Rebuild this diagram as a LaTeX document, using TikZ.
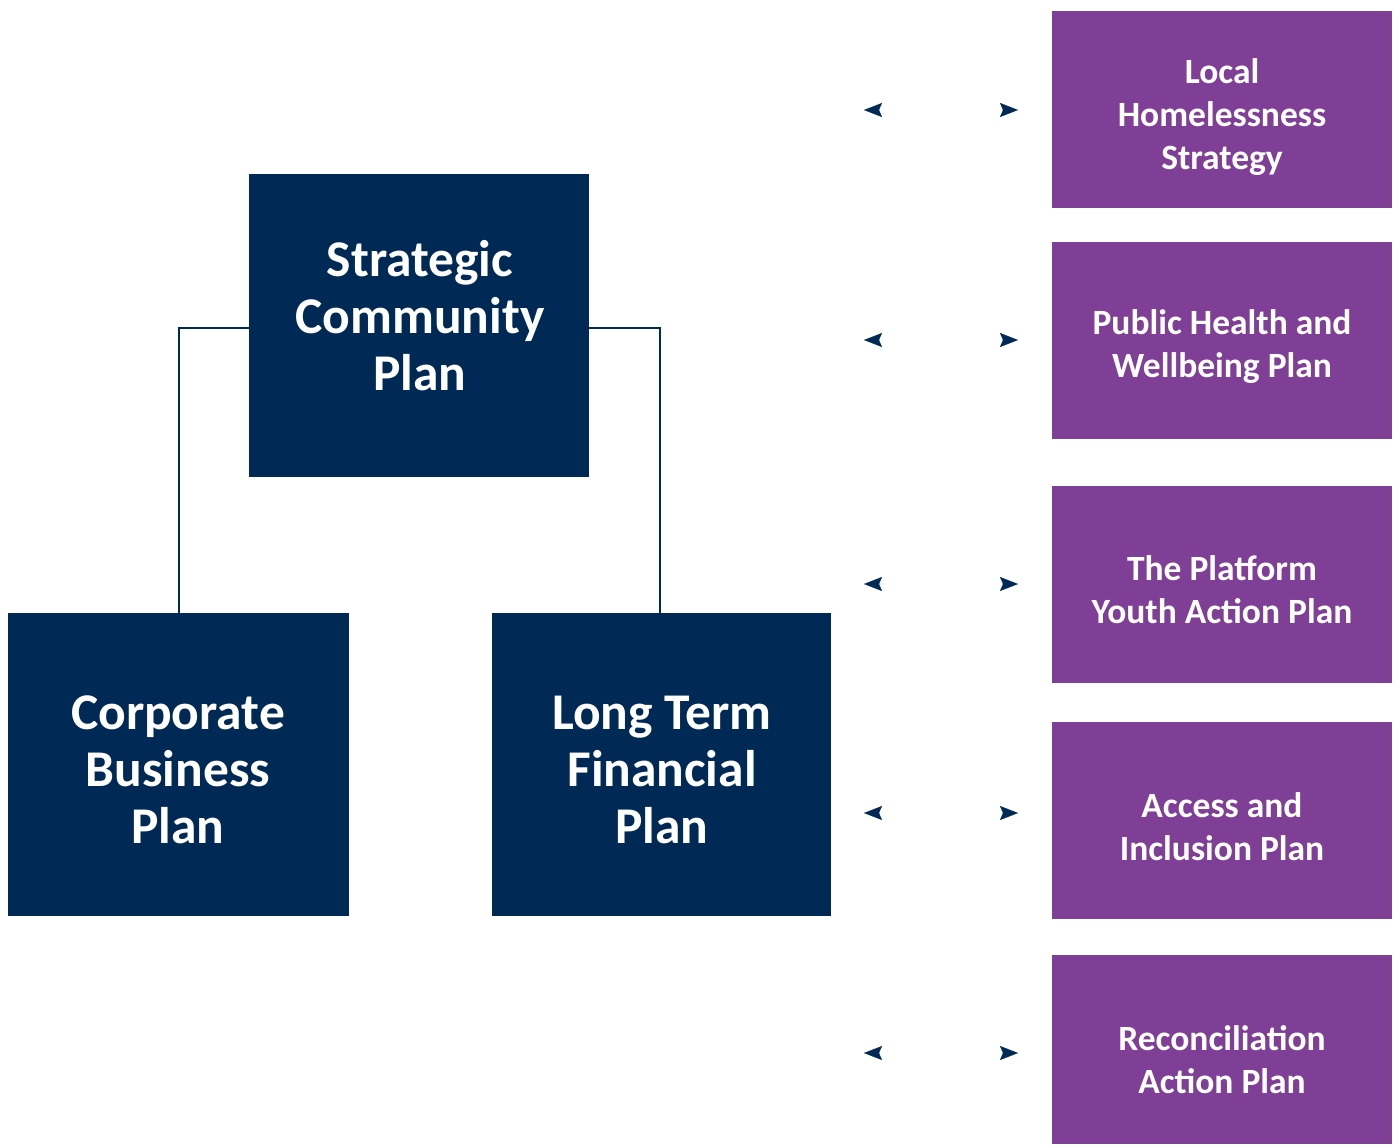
\documentclass[tikz,border=0pt]{standalone}
\usepackage{fontspec}
\setmainfont{Carlito}
\usetikzlibrary{arrows.meta}
\definecolor{navy}{HTML}{002A55}
\definecolor{plum}{HTML}{7F3F96}
\tikzset{
  navybox/.style={fill=navy, draw=none, anchor=north west, inner sep=0pt},
  plumbox/.style={fill=plum, draw=none, anchor=north west, inner sep=0pt, minimum width=340pt},
  bigtext/.style={text=white, align=center, font=\bfseries\fontsize{51.5}{57}\selectfont, inner sep=0pt},
  smalltext/.style={text=white, align=center, font=\bfseries\fontsize{35.5}{43}\selectfont, inner sep=0pt},
  link/.style={draw=navy, line width=2pt},
  tip/.style={Stealth[navy,length=18pt,width=14pt,inset=3pt]},
  tips/.style={draw=white, line width=0.1pt, {Stealth[navy,length=18pt,width=14pt,inset=3pt]}-{Stealth[navy,length=18pt,width=14pt,inset=3pt]}}
}
\begin{document}
\begin{tikzpicture}[x=1pt,y=-1pt]
\useasboundingbox (0,0) rectangle (1398,1144);
\coordinate (cl) at (179,328);
\coordinate (cr) at (660,328);
% boxes
\node[navybox, minimum width=340pt, minimum height=303pt] (scp) at (249,174) {};
\node[navybox, minimum width=341pt, minimum height=303pt] (cbp) at (8,613) {};
\node[navybox, minimum width=339pt, minimum height=303pt] (ltfp) at (492,613) {};
\draw[link] (scp.west |- cl) -- (cl) -- (cbp.north -| cl);
\draw[link] (scp.east |- cr) -- (cr) -- (ltfp.north -| cr);
\node[bigtext] (scpt) at (420,316) {Strategic\\Community\\Plan};
\node[bigtext] (cbpt) at (178,770) {Corporate\\Business\\Plan};
\node[bigtext] (ltfpt) at (662,770) {Long Term\\Financial\\Plan};
% purple boxes
\node[plumbox, minimum height=197pt] (p1) at (1052,11) {};
\node[plumbox, minimum height=197pt] (p2) at (1052,242) {};
\node[plumbox, minimum height=197pt] (p3) at (1052,486) {};
\node[plumbox, minimum height=197pt] (p4) at (1052,722) {};
\node[plumbox, minimum height=189pt] (p5) at (1052,955) {};
\node[smalltext] (p1t) at (1222,117) {Local\\Homelessness\\Strategy};
\node[smalltext] (p2t) at (1222,347) {Public Health and\\Wellbeing Plan};
\node[smalltext] (p3t) at (1222,590) {The Platform\\Youth Action Plan};
\node[smalltext] (p4t) at (1222,827) {Access and\\Inclusion Plan};
\node[smalltext] (p5t) at (1222,1060) {Reconciliation\\Action Plan};
% arrow tips
\foreach \y/\n in {110/1,340/2,584/3,813/4,1053/5}{
  \coordinate (a\n) at (864,\y);
  \coordinate (b\n) at (1018,\y);
  \draw[tips] (a\n) -- (b\n);
}
\end{tikzpicture}
\end{document}
